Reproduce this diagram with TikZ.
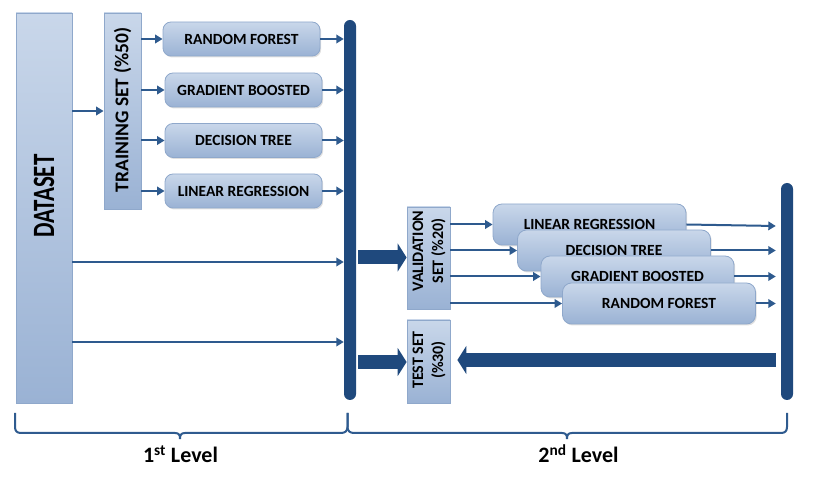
\documentclass[tikz,border=0pt]{standalone}
\usepackage{fontspec}
\setmainfont{Carlito}
\usetikzlibrary{arrows.meta,shadows}
\definecolor{boxtop}{HTML}{C9D7EA}
\definecolor{boxbot}{HTML}{9AB2D4}
\definecolor{boxline}{HTML}{8FA8CB}
\definecolor{dkblue}{HTML}{1F497D}
\definecolor{arrblue}{HTML}{2E5A8E}
\definecolor{braceblue}{HTML}{2F5B8F}
\begin{document}
\begin{tikzpicture}[x=1pt,y=-1pt,
  box/.style={draw=boxline, line width=0.8pt, top color=boxtop, bottom color=boxbot, inner sep=0pt},
  model/.style={box, rounded corners=8pt, minimum width=157pt, minimum height=34pt,
     font=\fontsize{15.5}{17}\selectfont\bfseries,
     drop shadow={shadow xshift=1.2pt, shadow yshift=-1.5pt, opacity=0.25}},
  modeltwo/.style={model, rounded corners=9pt, minimum width=193pt, minimum height=41pt},
  conn/.style={draw=arrblue, line width=2pt, -{Triangle[length=7.5pt,width=8.5pt]}},
  bar/.style={fill=dkblue, rounded corners=6pt, inner sep=0pt, minimum width=12pt},
  bigarrow/.style={draw=dkblue, line width=14pt, -{Triangle[length=9pt,width=28pt]}},
  brace/.style={draw=braceblue, line width=2pt},
  vtext/.style={rotate=90, inner sep=0pt, align=center}
]
\useasboundingbox (0,0) rectangle (831,486);

% DATASET
\node[box, minimum width=56pt, minimum height=390pt] (ds) at (44,208) {};
\node[vtext, font=\fontsize{31}{31}\selectfont\bfseries] (dstext) at (44,196) {\scalebox{0.74}[1]{DATASET}};

% TRAINING SET
\node[box, minimum width=37pt, minimum height=196pt] (tr) at (122.5,111) {};
\node[vtext, font=\fontsize{19.5}{20}\selectfont\bfseries] (trtext) at (122.5,110) {TRAINING SET (\%50)};

% bars
\node[bar, minimum height=380pt] (bar1) at (350,210) {};
\node[bar, minimum height=217pt] (bar2) at (787,291.5) {};
\coordinate (bar2in) at ([xshift=-5pt]bar2.west);

% level-1 models
\node[model] (rf1) at (241.5,39) {RANDOM FOREST};
\node[model] (gb1) at (243.5,90) {GRADIENT BOOSTED};
\node[model] (dt1) at (243.5,140.5) {DECISION TREE};
\node[model] (lr1) at (243.5,191) {LINEAR REGRESSION};

\draw[conn] (ds.east |- tr.west) -- (tr.west);
\foreach \m in {rf1,gb1,dt1,lr1}{
  \draw[conn] (tr.east |- \m.west) -- (\m.west);
  \draw[conn] (\m.east) -- (bar1.west |- \m.east);
}

\coordinate (d1) at (72,262);
\coordinate (d2) at (72,342);
\draw[conn] (d1) -- (bar1.west |- d1);
\draw[conn] (d2) -- (bar1.west |- d2);

% validation and test sets
\node[box, minimum width=43pt, minimum height=102pt] (vs) at (428.5,258) {};
\node[vtext, font=\fontsize{16}{20}\selectfont\bfseries] (vstext) at (429,251) {VALIDATION\\SET (\%20)};
\node[box, minimum width=43pt, minimum height=83pt] (ts) at (428.5,361.5) {};
\node[vtext, font=\fontsize{16}{20}\selectfont\bfseries] (tstext) at (429,360) {TEST SET\\(\%30)};

\draw[bigarrow] ([xshift=2pt]bar1.east |- 0,257.5) -- (vs.west |- 0,257.5);
\draw[bigarrow] ([xshift=2pt]bar1.east |- 0,362) -- (ts.west |- 0,362);

% level-2 models
\node[modeltwo] (lr2) at (589.5,224.5) {LINEAR REGRESSION};
\node[modeltwo] (dt2) at (614,250.5) {DECISION TREE};
\node[modeltwo] (gb2) at (637.5,276.5) {GRADIENT BOOSTED};
\node[modeltwo] (rf2) at (659,303.5) {RANDOM FOREST};

\foreach \m in {lr2,dt2,gb2,rf2}{
  \draw[conn] (vs.east |- \m.west) -- (\m.west);
}
\draw[conn] (lr2.east) -- (bar2in |- 0,226);
\foreach \m in {dt2,gb2,rf2}{
  \draw[conn] (\m.east) -- (bar2in |- \m.east);
}

\draw[bigarrow] (bar2in |- 0,360) -- ([xshift=7pt]ts.east |- 0,360);

% braces
\draw[brace] (15,413) -- (15,427) .. controls (15,431) and (17,433) .. (21,433) -- (175,433)
  .. controls (179,433) and (180,435) .. (180,439) .. controls (180,435) and (181,433) .. (185,433)
  -- (341,433) .. controls (345,433) and (347.5,431) .. (347.5,427) -- (347.5,413);
\draw[brace] (347.5,413) -- (347.5,427) .. controls (347.5,431) and (350,433) .. (354,433) -- (562,433)
  .. controls (566,433) and (567,435) .. (567,439) .. controls (567,435) and (568,433) .. (572,433)
  -- (781,433) .. controls (785,433) and (787,431) .. (787,427) -- (787,413);

\node[font=\fontsize{22}{24}\selectfont\bfseries, anchor=base] (lvl1) at (180.5,463) {1\textsuperscript{st} Level};
\node[font=\fontsize{22}{24}\selectfont\bfseries, anchor=base] (lvl2) at (578.5,463) {2\textsuperscript{nd} Level};
\end{tikzpicture}
\end{document}
